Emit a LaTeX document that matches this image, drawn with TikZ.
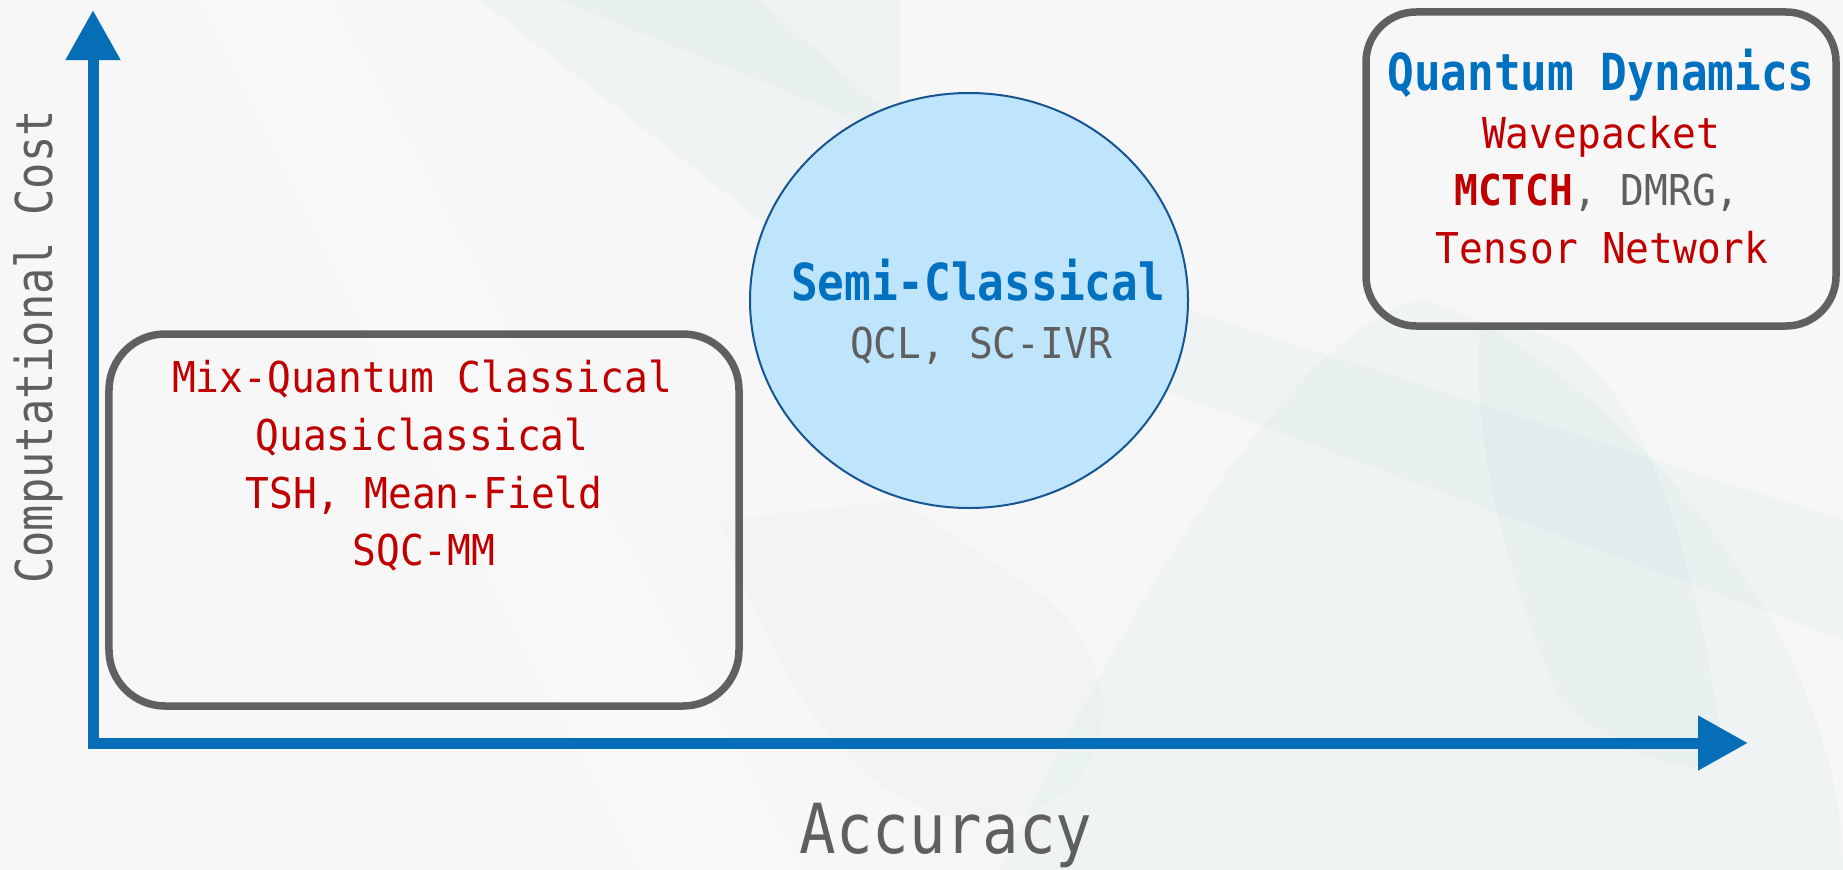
\documentclass[tikz,border=0pt]{standalone}
\usepackage{fontspec}
\usetikzlibrary{arrows.meta,shapes.geometric}
\newfontfamily\bodyfont[FakeStretch=0.93]{DejaVu Sans Mono}
\newfontfamily\headfont[FakeStretch=0.87]{DejaVu Sans Mono}
\newfontfamily\accfont[FakeStretch=0.88]{DejaVu Sans Mono}
\newfontfamily\costfont[FakeStretch=0.86]{DejaVu Sans Mono}
\definecolor{bgcol}{RGB}{247,247,247}
\definecolor{axisblue}{RGB}{6,110,183}
\definecolor{headblue}{RGB}{0,112,192}
\definecolor{darkred}{RGB}{192,0,0}
\definecolor{txtgray}{RGB}{95,95,95}
\definecolor{framegray}{RGB}{96,96,96}
\definecolor{circfill}{RGB}{191,229,252}
\definecolor{circline}{RGB}{22,84,146}
\definecolor{tealbg}{RGB}{120,195,195}
\tikzset{
  axisline/.style={draw=axisblue, line width=11bp, line join=miter,
    {Triangle[width=52bp,length=50bp]}-{Triangle[width=52bp,length=50bp]}},
  framebox/.style={draw=framegray, line width=7.5bp, rectangle, inner sep=0pt},
  semicirc/.style={ellipse, draw=circline, fill=circfill, line width=2bp, inner sep=0pt,
    minimum width=438bp, minimum height=415bp},
  bodytxt/.style={anchor=base, inner sep=0pt, font=\bodyfont\fontsize{42.5bp}{58bp}\selectfont, text=darkred},
  headtxt/.style={anchor=base, inner sep=0pt, font=\headfont\bfseries\fontsize{51bp}{60bp}\selectfont, text=headblue},
  bgshape/.style={fill=tealbg, fill opacity=0.06, draw=none},
  bgwhite/.style={fill=white, fill opacity=0.3, draw=none}
}
\begin{document}
\begin{tikzpicture}[x=1bp,y=-1bp]
\fill[bgcol] (0,0) rectangle (1843,870);
\useasboundingbox (0,0) rectangle (1843,870);
% faint background shapes
\path[bgshape] (480,0) -- (900,0) -- (900,330) -- cycle;
\path[bgshape] (560,0) -- (760,0) -- (930,150) -- cycle;
\path[bgwhite] (200,0) -- (330,0) -- (800,870) -- (640,870) -- cycle;
\path[bgshape] (1000,870) .. controls (1150,560) and (1300,330) .. (1420,300)
   .. controls (1560,330) and (1843,600) .. (1843,870) -- cycle;
\path[bgshape] (1480,330) .. controls (1620,300) and (1690,520) .. (1720,730)
   .. controls (1740,800) and (1620,760) .. (1560,700)
   .. controls (1500,560) and (1470,420) .. cycle;
\path[bgshape] (1000,250) -- (1843,520) -- (1843,640) -- (1000,330) -- cycle;
\path[bgshape, fill opacity=0.04] (720,520) .. controls (780,700) and (860,800) .. (960,820)
   .. controls (1100,830) and (1150,700) .. (1050,600) -- (900,500) -- cycle;
% axes
\coordinate (ytop) at (93,10);
\coordinate (origin) at (93,743);
\coordinate (xend) at (1748,743);
\draw[axisline] (ytop) -- (origin) -- (xend);
% axis labels
\node[anchor=base, inner sep=0pt, rotate=90, text=txtgray,
  font=\costfont\fontsize{50.8bp}{60bp}\selectfont] (costlabel) at (52,347) {Computational Cost};
\node[anchor=base, inner sep=0pt, text=txtgray,
  font=\accfont\fontsize{69bp}{80bp}\selectfont] (acclabel) at (946,853) {Accuracy};
% mixed quantum-classical box
\node[framebox, rounded corners=56bp, minimum width=630bp, minimum height=372bp] (mixbox) at (424,520) {};
\node[bodytxt] (mix1) at (422,392) {Mix-Quantum Classical};
\node[bodytxt] (mix2) at (422,450) {Quasiclassical};
\node[bodytxt] (mix3) at (424,508) {TSH, Mean-Field};
\node[bodytxt] (mix4) at (424,565) {SQC-MM};
% semi-classical ellipse
\node[semicirc] (semi) at (969,300.5) {};
\node[headtxt] (semi1) at (978,300) {Semi-Classical};
\node[bodytxt, text=txtgray] (semi2) at (981,358) {QCL, SC-IVR};
% quantum dynamics box
\node[framebox, rounded corners=50bp, minimum width=470bp, minimum height=314bp] (qdbox) at (1601,169) {};
\node[headtxt] (qd1) at (1601,90) {Quantum Dynamics};
\node[bodytxt] (qd2) at (1601,148) {Wavepacket};
\node[bodytxt] (qd3) at (1597,205) {{\bfseries MCTCH}\textcolor{txtgray}{, DMRG,}};
\node[bodytxt] (qd4) at (1602,263) {Tensor Network};
\end{tikzpicture}
\end{document}
